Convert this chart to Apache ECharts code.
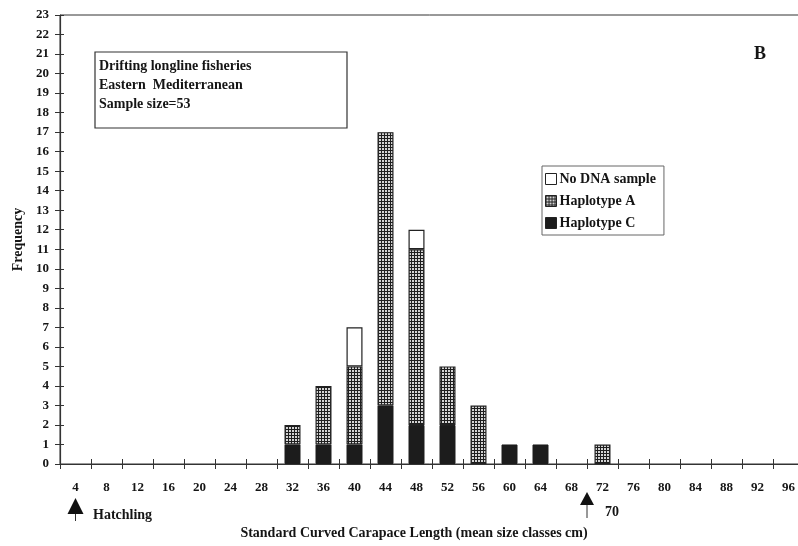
<!DOCTYPE html>
<html>
<head>
<meta charset="utf-8">
<script src="https://cdn.jsdelivr.net/npm/echarts@6/dist/echarts.min.js"></script>
<style>
html,body{margin:0;padding:0;background:#fff;}
#c{width:798px;height:546px;}
</style>
</head>
<body>
<div id="c"></div>
<script>
const categories = ['4','8','12','16','20','24','28','32','36','40','44','48','52','56','60','64','68','72','76','80','84','88','92','96'];
const haplotypeC = [null,null,null,null,null,null,null,1,1,1,3,2,2,null,1,1,null,null,null,null,null,null,null,null];
const haplotypeA = [null,null,null,null,null,null,null,1,3,4,14,9,3,3,null,null,null,1,null,null,null,null,null,null];
const noDNA      = [null,null,null,null,null,null,null,null,null,2,null,1,null,null,null,null,null,null,null,null,null,null,null,null];
const yTicks = {min: 0, max: 23, interval: 1};
const infoLines = ['Drifting longline fisheries', 'Eastern  Mediterranean', 'Sample size=53'];

const FONT = '"Liberation Serif", "DejaVu Serif", serif';
const INK = '#151515';
const LINE = '#333';

// grid hatch pattern for Haplotype A
const pc = document.createElement('canvas');
pc.width = 3; pc.height = 3;
const pctx = pc.getContext('2d');
pctx.fillStyle = '#d4d4d4'; pctx.fillRect(0,0,3,3);
pctx.fillStyle = '#1e1e1e';
pctx.fillRect(0,0,3,1);
pctx.fillRect(0,0,1,3);
const hatch = {image: pc, repeat: 'repeat'};

const chart = echarts.init(document.getElementById('c'), null, {renderer: 'canvas'});

const barBase = {
  type: 'bar', stack: 'total', barWidth: 16,
  xAxisIndex: 0, yAxisIndex: 0,
  emphasis: {disabled: true}
};

const option = {
  animation: false,
  backgroundColor: '#fff',
  textStyle: {fontFamily: FONT},
  grid: {left: 60, width: 744, top: 15, bottom: 82, outerBoundsMode: 'none', containLabel: false, show: true, borderColor: LINE, borderWidth: 1, backgroundColor: 'transparent'},
  legend: {
    orient: 'vertical', left: 542, top: 166,
    data: ['No DNA sample', 'Haplotype A', 'Haplotype C'],
    icon: 'rect', itemWidth: 11, itemHeight: 11, itemGap: 8,
    selectedMode: false,
    borderColor: '#666', borderWidth: 1, padding: [6, 8, 5, 3],
    textStyle: {fontFamily: FONT, fontWeight: 'bold', fontSize: 14, color: INK, padding: [0,0,0,-2]},
    itemStyle: {borderColor: '#222', borderWidth: 1}
  },
  xAxis: [{
    type: 'category', data: categories, boundaryGap: true,
    axisLine: {lineStyle: {color: LINE, width: 1.2}},
    axisTick: {show: true, inside: false, length: 5, lineStyle: {color: LINE}},
    axisLabel: {margin: 17, fontFamily: FONT, fontWeight: 'bold', fontSize: 13, color: INK, interval: 0},
    name: 'Standard Curved Carapace Length (mean size classes cm)',
    nameLocation: 'middle', nameGap: 62,
    nameTextStyle: {fontFamily: FONT, fontWeight: 'bold', fontSize: 14, color: INK, padding: [0, 36, 0, 0]},
    splitLine: {show: false}
  }, {
    type: 'category', data: categories, boundaryGap: true, position: 'bottom',
    axisLine: {show: false},
    axisTick: {show: true, inside: true, length: 5, lineStyle: {color: LINE}},
    axisLabel: {show: false}, splitLine: {show: false}
  }],
  yAxis: [{
    type: 'value', min: yTicks.min, max: yTicks.max, interval: yTicks.interval,
    axisLine: {show: true, lineStyle: {color: LINE, width: 1.2}},
    axisTick: {show: true, inside: false, length: 5, lineStyle: {color: LINE}},
    axisLabel: {margin: 11, fontFamily: FONT, fontWeight: 'bold', fontSize: 13, color: INK},
    splitLine: {show: false},
    name: 'Frequency', nameLocation: 'middle', nameGap: 35, nameRotate: 90,
    nameTextStyle: {fontFamily: FONT, fontWeight: 'bold', fontSize: 14, color: INK}
  }, {
    type: 'value', position: 'left', min: yTicks.min, max: yTicks.max, interval: yTicks.interval,
    axisLine: {show: false},
    axisTick: {show: true, inside: true, length: 4, lineStyle: {color: LINE}},
    axisLabel: {show: false}, splitLine: {show: false}
  }],
  series: [
    Object.assign({}, barBase, {name: 'Haplotype C', data: haplotypeC, itemStyle: {color: '#1c1c1c', borderColor: '#1c1c1c', borderWidth: 1}}),
    Object.assign({}, barBase, {name: 'Haplotype A', data: haplotypeA, itemStyle: {color: hatch, borderColor: '#222', borderWidth: 1.2}}),
    Object.assign({}, barBase, {name: 'No DNA sample', data: noDNA, itemStyle: {color: '#fff', borderColor: '#222', borderWidth: 1.2}})
  ]
};
chart.setOption(option);

// annotations
const xHatch = chart.convertToPixel({xAxisIndex: 0}, '4');
const x68 = chart.convertToPixel({xAxisIndex: 0}, '68');
const x72 = chart.convertToPixel({xAxisIndex: 0}, '72');
const x70 = (x68 + x72) / 2;

function arrow(cx, tipY, w, h, stemEnd) {
  return [
    {type: 'polygon', shape: {points: [[cx, tipY], [cx - w/2, tipY + h], [cx + w/2, tipY + h]]}, style: {fill: '#111'}},
    {type: 'line', shape: {x1: cx, y1: tipY + h, x2: cx, y2: stemEnd}, style: {stroke: '#333', lineWidth: 1}}
  ];
}

const textStyleBase = {font: 'bold 14px ' + FONT, fill: INK, textVerticalAlign: 'middle'};

chart.setOption({
  graphic: [
    {type: 'rect', shape: {x: 95, y: 52, width: 252, height: 76}, style: {fill: 'none', stroke: '#333', lineWidth: 1.2}},
    {type: 'text', x: 99, y: 66, style: Object.assign({text: infoLines[0]}, textStyleBase)},
    {type: 'text', x: 99, y: 85, style: Object.assign({text: infoLines[1]}, textStyleBase)},
    {type: 'text', x: 99, y: 104, style: Object.assign({text: infoLines[2]}, textStyleBase)},
    {type: 'text', x: 754, y: 54, style: {text: 'B', font: 'bold 18px ' + FONT, fill: INK, textVerticalAlign: 'middle'}},
    ...arrow(xHatch, 498, 16, 16, 521),
    {type: 'text', x: 93, y: 515, style: Object.assign({text: 'Hatchling'}, textStyleBase)},
    ...arrow(x70, 492, 14, 13, 518),
    {type: 'text', x: 605, y: 512, style: Object.assign({text: '70'}, textStyleBase)}
  ]
});
</script>
</body>
</html>
